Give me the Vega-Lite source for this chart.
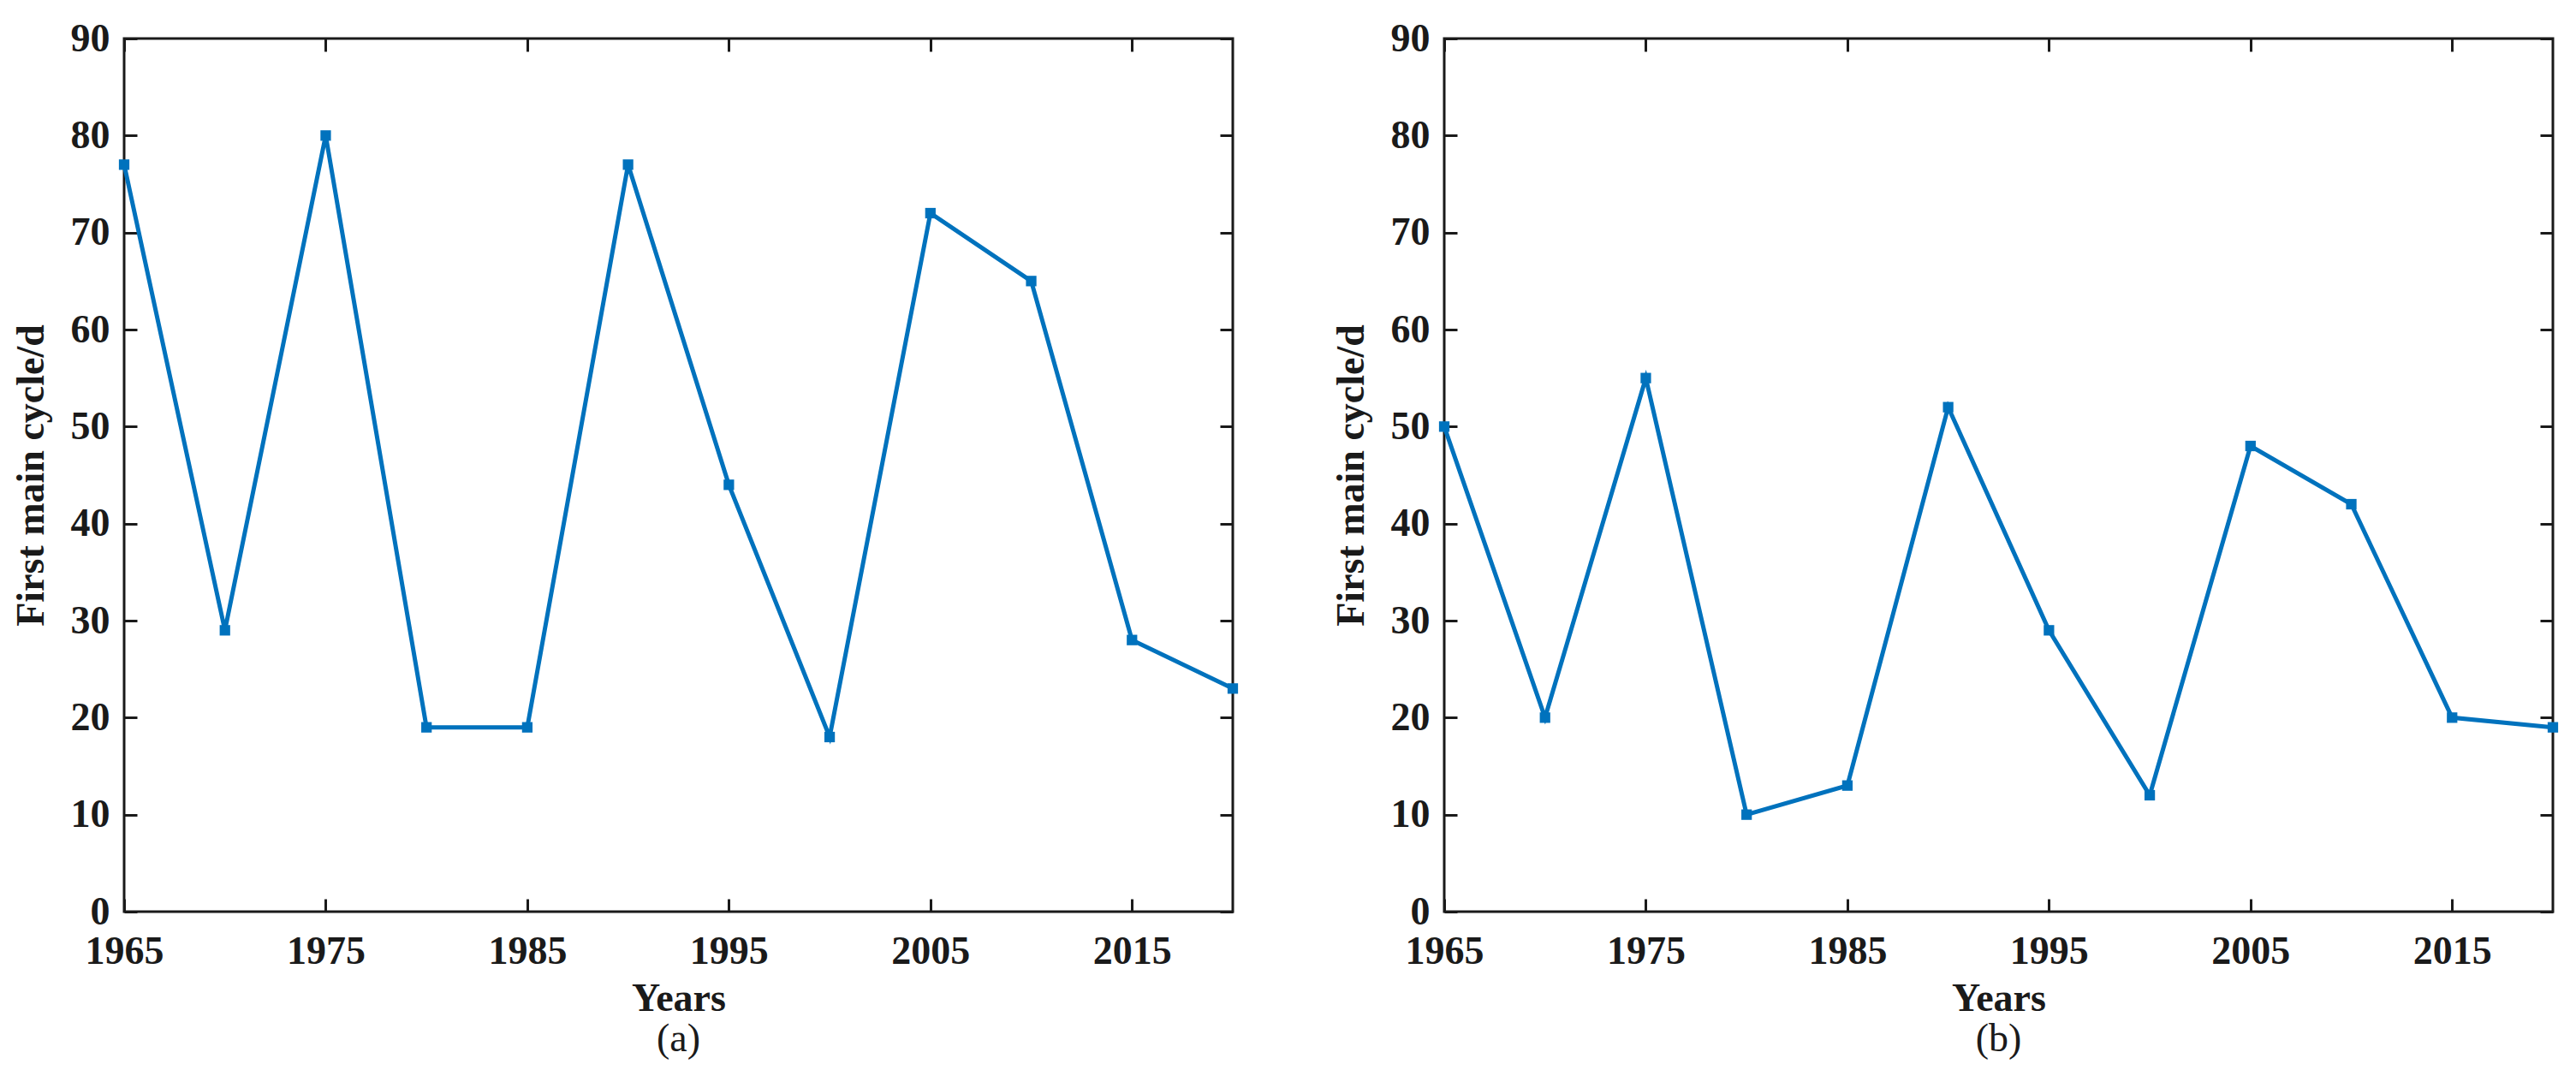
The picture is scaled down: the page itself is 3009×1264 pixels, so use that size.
{
  "$schema": "https://vega.github.io/schema/vega-lite/v6.json",
  "background": "white",
  "padding": {"left": 11, "top": 20, "right": 20, "bottom": 20},
  "autosize": {"type": "pad"},
  "datasets": {
    "d": [
      {"panel": "a", "year": 1965, "value": 77},
      {"panel": "a", "year": 1970, "value": 29},
      {"panel": "a", "year": 1975, "value": 80},
      {"panel": "a", "year": 1980, "value": 19},
      {"panel": "a", "year": 1985, "value": 19},
      {"panel": "a", "year": 1990, "value": 77},
      {"panel": "a", "year": 1995, "value": 44},
      {"panel": "a", "year": 2000, "value": 18},
      {"panel": "a", "year": 2005, "value": 72},
      {"panel": "a", "year": 2010, "value": 65},
      {"panel": "a", "year": 2015, "value": 28},
      {"panel": "a", "year": 2020, "value": 23},
      {"panel": "b", "year": 1965, "value": 50},
      {"panel": "b", "year": 1970, "value": 20},
      {"panel": "b", "year": 1975, "value": 55},
      {"panel": "b", "year": 1980, "value": 10},
      {"panel": "b", "year": 1985, "value": 13},
      {"panel": "b", "year": 1990, "value": 52},
      {"panel": "b", "year": 1995, "value": 29},
      {"panel": "b", "year": 2000, "value": 12},
      {"panel": "b", "year": 2005, "value": 48},
      {"panel": "b", "year": 2010, "value": 42},
      {"panel": "b", "year": 2015, "value": 20},
      {"panel": "b", "year": 2020, "value": 19}
    ]
  },
  "config": {
    "view": {"stroke": "#1a1a1a", "strokeWidth": 3},
    "font": "Liberation Serif",
    "axis": {
      "domain": false, "grid": false, "labelFlush": false, "labelOverlap": false,
      "labelFont": "Liberation Serif", "labelFontWeight": "bold", "labelFontSize": 46, "labelColor": "#1a1a1a",
      "titleFont": "Liberation Serif", "titleFontWeight": "bold", "titleFontSize": 46, "titleColor": "#1a1a1a",
      "tickColor": "#1a1a1a", "tickWidth": 3, "tickSize": -15
    },
    "concat": {"spacing": 101}
  },
  "hconcat": [
    {
      "width": 1295, "height": 1020,
      "title": {"text": "(a)", "orient": "bottom", "fontSize": 46, "fontWeight": "normal", "font": "Liberation Serif", "color": "#1a1a1a", "offset": 3},
      "data": {"name": "d"},
      "transform": [{"filter": "datum.panel == 'a'"}],
      "layer": [
        {
          "mark": {"type": "line", "color": "#0072BD", "strokeWidth": 5},
          "encoding": {
            "x": {"field": "year", "type": "quantitative", "scale": {"domain": [1965, 2020], "nice": false},
                  "axis": {"values": [1965, 1975, 1985, 1995, 2005, 2015], "format": "d", "title": "Years", "labelPadding": 39, "titlePadding": 10}},
            "y": {"field": "value", "type": "quantitative", "scale": {"domain": [0, 90], "nice": false},
                  "axis": {"values": [0, 10, 20, 30, 40, 50, 60, 70, 80, 90], "title": "First main cycle/d", "labelPadding": 32, "titlePadding": 22}}
          }
        },
        {
          "mark": {"type": "point", "shape": "square", "filled": true, "size": 150, "color": "#0072BD", "opacity": 1},
          "encoding": {
            "x": {"field": "year", "type": "quantitative", "axis": {"orient": "top", "labels": false, "title": null, "values": [1965, 1975, 1985, 1995, 2005, 2015]}},
            "y": {"field": "value", "type": "quantitative", "axis": {"orient": "right", "labels": false, "title": null, "values": [0, 10, 20, 30, 40, 50, 60, 70, 80, 90]}}
          }
        }
      ],
      "resolve": {"axis": {"x": "independent", "y": "independent"}}
    },
    {
      "width": 1295, "height": 1020,
      "title": {"text": "(b)", "orient": "bottom", "fontSize": 46, "fontWeight": "normal", "font": "Liberation Serif", "color": "#1a1a1a", "offset": 3},
      "data": {"name": "d"},
      "transform": [{"filter": "datum.panel == 'b'"}],
      "layer": [
        {
          "mark": {"type": "line", "color": "#0072BD", "strokeWidth": 5},
          "encoding": {
            "x": {"field": "year", "type": "quantitative", "scale": {"domain": [1965, 2020], "nice": false},
                  "axis": {"values": [1965, 1975, 1985, 1995, 2005, 2015], "format": "d", "title": "Years", "labelPadding": 39, "titlePadding": 10}},
            "y": {"field": "value", "type": "quantitative", "scale": {"domain": [0, 90], "nice": false},
                  "axis": {"values": [0, 10, 20, 30, 40, 50, 60, 70, 80, 90], "title": "First main cycle/d", "labelPadding": 32, "titlePadding": 22}}
          }
        },
        {
          "mark": {"type": "point", "shape": "square", "filled": true, "size": 150, "color": "#0072BD", "opacity": 1},
          "encoding": {
            "x": {"field": "year", "type": "quantitative", "axis": {"orient": "top", "labels": false, "title": null, "values": [1965, 1975, 1985, 1995, 2005, 2015]}},
            "y": {"field": "value", "type": "quantitative", "axis": {"orient": "right", "labels": false, "title": null, "values": [0, 10, 20, 30, 40, 50, 60, 70, 80, 90]}}
          }
        }
      ],
      "resolve": {"axis": {"x": "independent", "y": "independent"}}
    }
  ]
}
